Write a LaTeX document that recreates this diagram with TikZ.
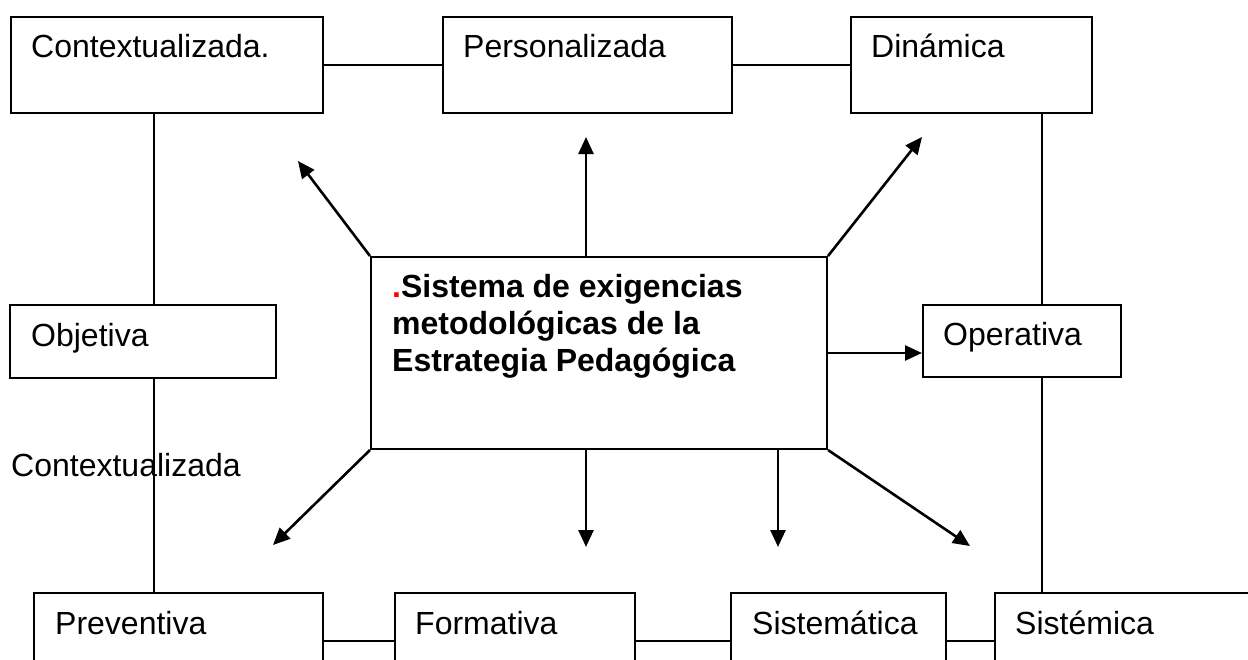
\documentclass[tikz,border=0pt]{standalone}
\usepackage{fontspec}
\setmainfont{Liberation Sans}
\usetikzlibrary{arrows.meta,calc}
\begin{document}
\begin{tikzpicture}[x=1pt,y=-1pt,
  box/.style={draw=black,line width=2pt,rectangle,inner sep=0pt,anchor=north west,fill=white},
  lbl/.style={anchor=base west,inner sep=0pt,font=\fontsize{32}{37}\selectfont},
  link/.style={line width=2pt},
  arr/.style={line width=2.6pt,-{Triangle[length=17pt,width=15pt]}}]
\useasboundingbox (0,0) rectangle (1248,659);
\clip (0,0) rectangle (1248,659);
\fill[white] (0,0) rectangle (1248,659);
% top row
\node[box,minimum width=312pt,minimum height=96pt] (ctx) at (10,16) {};
\node[box,minimum width=289pt,minimum height=96pt] (pers) at (442,16) {};
\node[box,minimum width=241pt,minimum height=96pt] (din) at (850,16) {};
\node[lbl] (ctxt) at ($(ctx.north west)+(21,41)$) {Contextualizada.};
\node[lbl] (perst) at ($(pers.north west)+(21,41)$) {Personalizada};
\node[lbl] (dint) at ($(din.north west)+(21,41)$) {Dinámica};
% middle row
\node[box,minimum width=266pt,minimum height=73pt] (obj) at (9,304) {};
\node[lbl] (objt) at ($(obj.north west)+(22,42)$) {Objetiva};
\node[box,minimum width=198pt,minimum height=72pt] (opv) at (922,304) {};
\node[lbl] (opvt) at ($(opv.north west)+(21,41)$) {Operativa};
% bottom row
\node[box,minimum width=289pt,minimum height=96pt] (prev) at (33,592) {};
\node[box,minimum width=240pt,minimum height=96pt] (form) at (394,592) {};
\node[box,minimum width=215pt,minimum height=96pt] (sist) at (730,592) {};
\node[box,minimum width=300pt,minimum height=96pt] (sism) at (994,592) {};
\node[lbl] (prevt) at ($(prev.north west)+(22,42)$) {Preventiva};
\node[lbl] (formt) at ($(form.north west)+(21,42)$) {Formativa};
\node[lbl] (sistt) at ($(sist.north west)+(22,42)$) {Sistemática};
\node[lbl] (sismt) at ($(sism.north west)+(21,42)$) {Sistémica};
% free label
\node[lbl] (ctx2) at (11,476) {Contextualizada};
% centre
\node[box,minimum width=456pt,minimum height=192pt] (cb) at (370,256) {};
\node[anchor=base west,inner sep=0pt] (cbt) at (392,297)
  {\parbox[t]{420pt}{\fontsize{32}{37}\selectfont\bfseries\leavevmode{\color{red}.}Sistema de exigencias\\metodológicas de la\\Estrategia Pedagógica}};
% connectors
\coordinate (lx) at (154,0);
\coordinate (rx) at (1042,0);
\draw[link] (ctx.east) -- (pers.west);
\draw[link] (pers.east) -- (din.west);
\draw[link] (ctx.south -| lx) -- (obj.north -| lx);
\draw[link] (obj.south -| lx) -- (prev.north -| lx);
\draw[link] (din.south -| rx) -- (opv.north -| rx);
\draw[link] (opv.south -| rx) -- (sism.north -| rx);
\draw[link] (prev.east) -- (form.west);
\draw[link] (form.east) -- (sist.west);
\draw[link] (sist.east) -- (sism.west);
% arrows
\coordinate (anw) at (298,161);
\coordinate (an) at (586,137);
\coordinate (ane) at (922,137);
\coordinate (asw) at (273,545);
\coordinate (as1) at (586,547);
\coordinate (as2) at (778,547);
\coordinate (ase) at (970,546);
\draw[arr] (cb.north west) -- (anw);
\draw[arr] (cb.north -| an) -- (an);
\draw[arr] (cb.north east) -- (ane);
\draw[arr] (cb.east) -- (opv.west |- cb.east);
\draw[arr] (cb.south west) -- (asw);
\draw[arr] (cb.south -| as1) -- (as1);
\draw[arr] (cb.south -| as2) -- (as2);
\draw[arr] (cb.south east) -- (ase);
\end{tikzpicture}
\end{document}
